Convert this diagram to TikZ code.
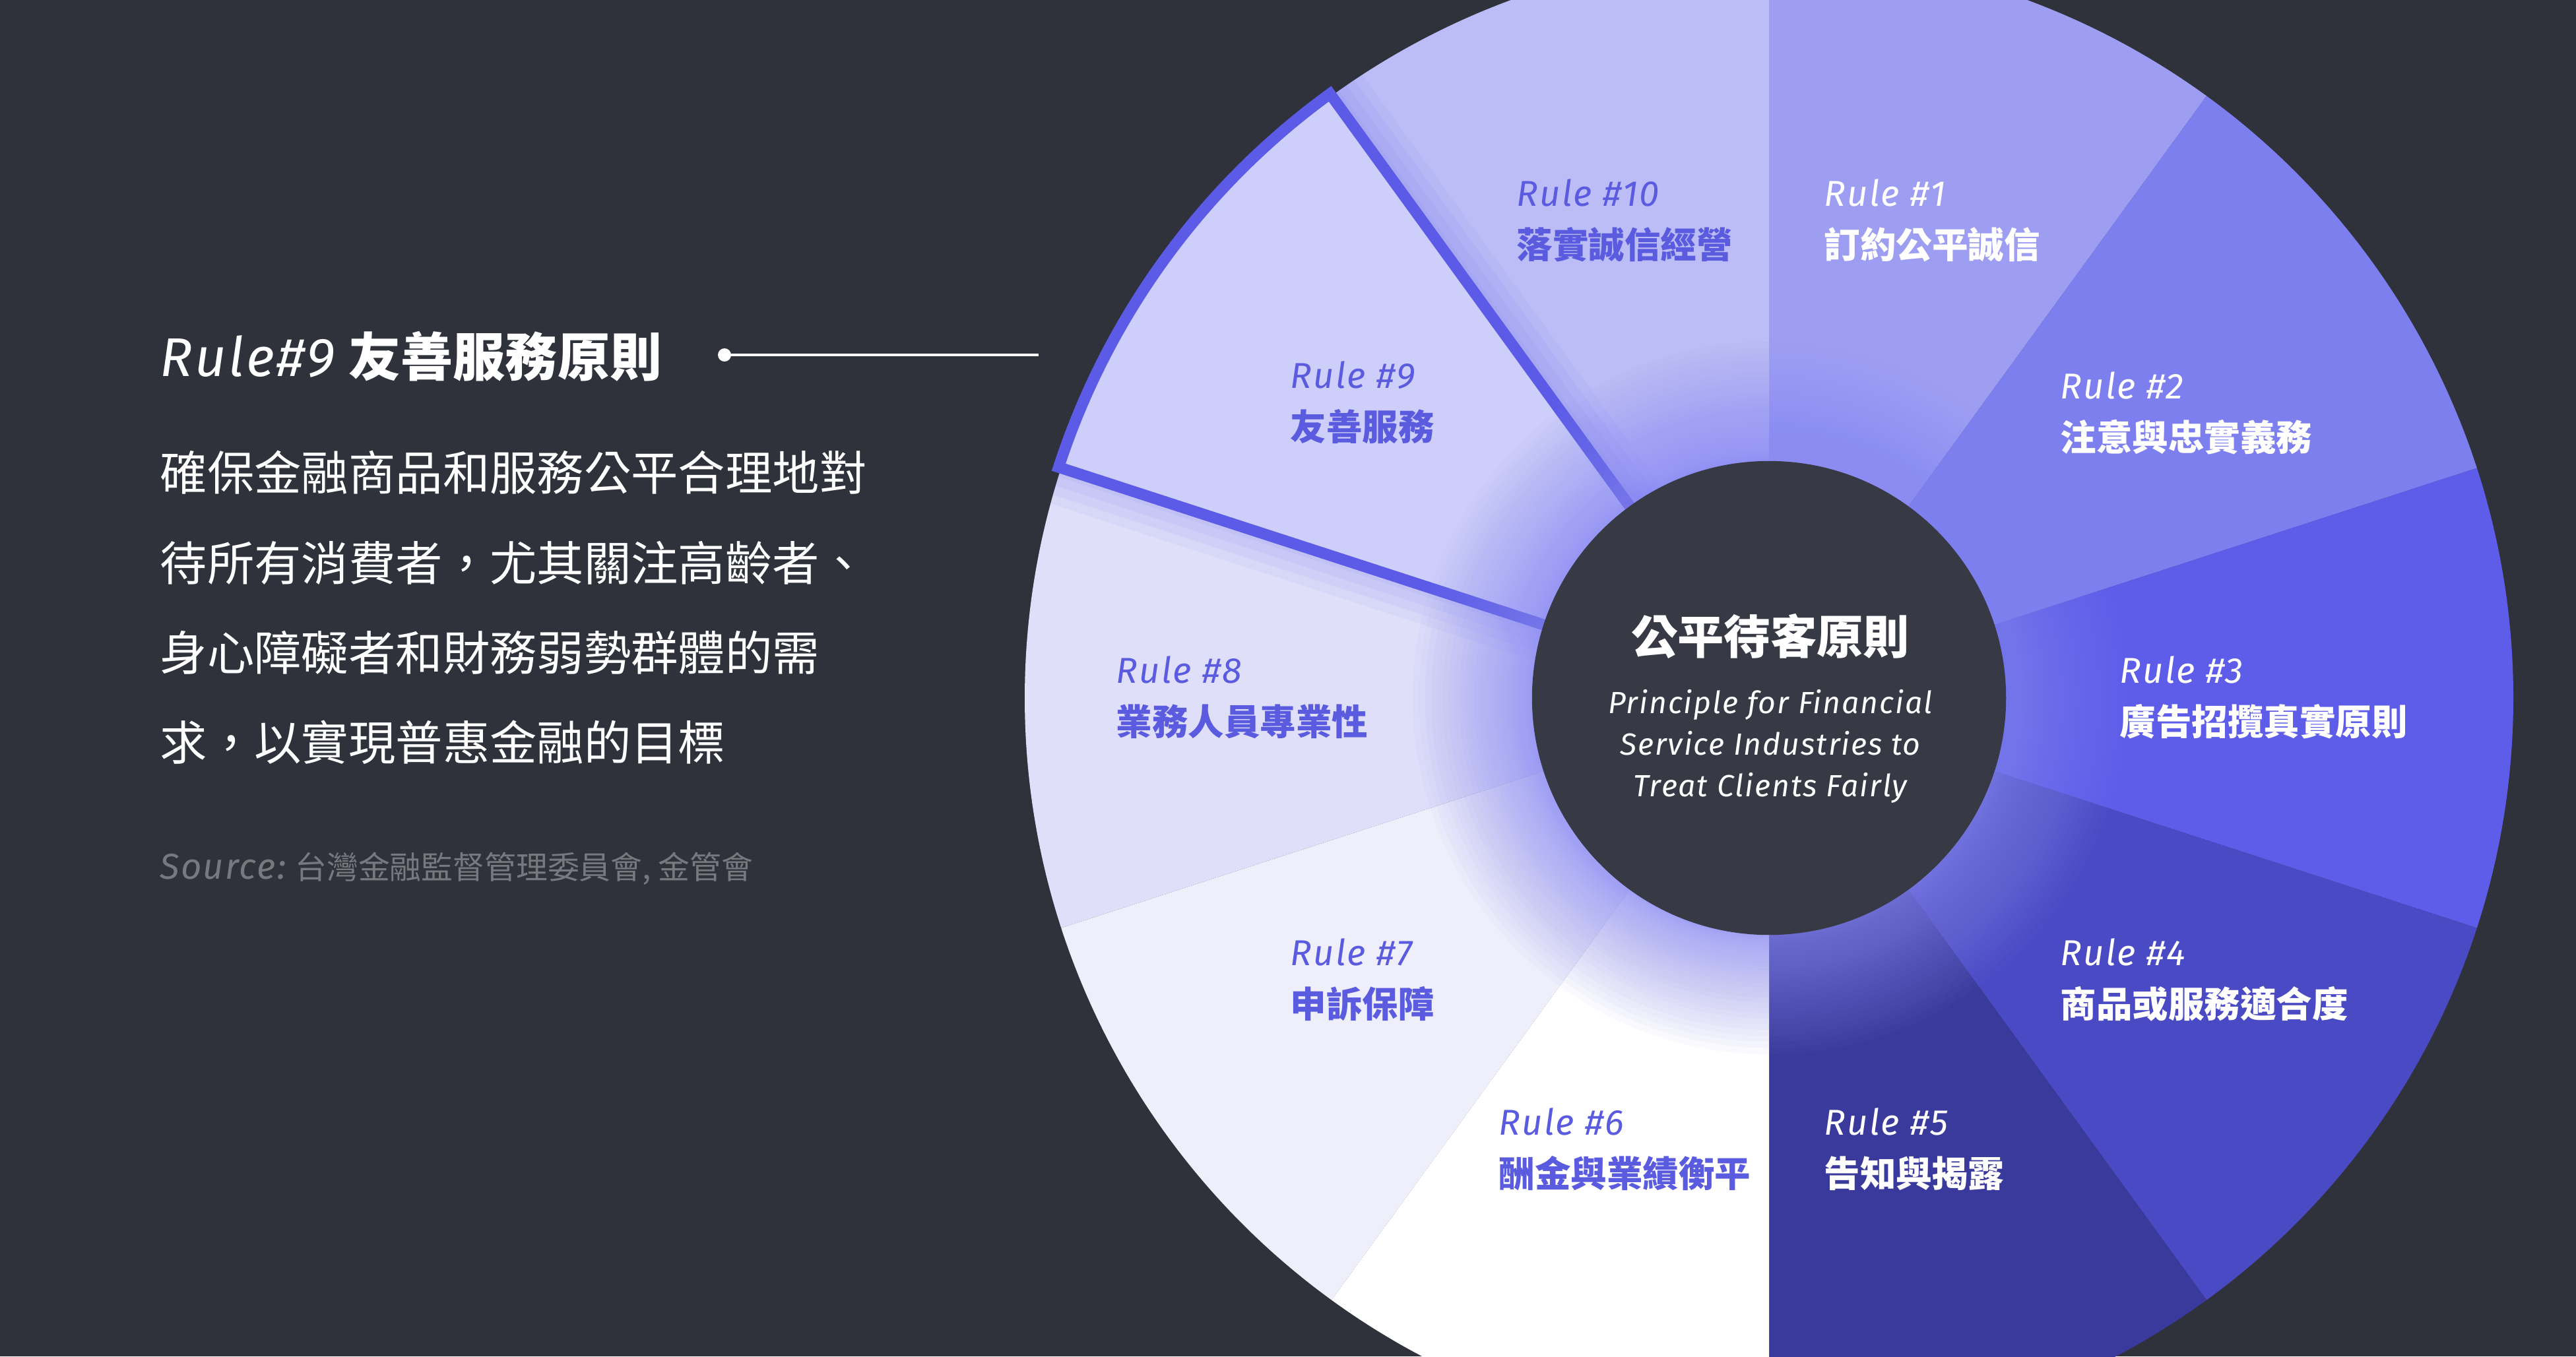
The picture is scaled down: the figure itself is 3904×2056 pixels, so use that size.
\documentclass[tikz,border=0pt]{standalone}
\usepackage{fontspec}
\setmainfont{Noto Sans CJK TC}
\newfontfamily\firasans{Fira Sans}[LetterSpace=4]
\newcommand\lightit{\firasans\itshape}
\newcommand\regit{\firasans\itshape}

\definecolor{bg}{HTML}{2F323B}
\definecolor{hub}{HTML}{373945}
\definecolor{s1}{HTML}{9D9EF2}
\definecolor{s2}{HTML}{7E7FEF}
\definecolor{s3}{HTML}{5D5DEA}
\definecolor{s4}{HTML}{4A4BC4}
\definecolor{s5}{HTML}{393A9B}
\definecolor{s6}{HTML}{FFFFFF}
\definecolor{s7}{HTML}{EFEFFC}
\definecolor{s8}{HTML}{DFDFFA}
\definecolor{s9}{HTML}{CDCEFA}
\definecolor{s10}{HTML}{BCBDF6}
\definecolor{edge}{HTML}{5B5BE8}
\definecolor{ink}{HTML}{5B5BE0}
\definecolor{glowcol}{HTML}{8B8BF4}
\definecolor{srcgray}{HTML}{77797F}

\begin{document}
\begin{tikzpicture}[x=0.01cm,y=0.01cm,inner sep=0pt,
  lbl/.style={anchor=west,align=left,font=\fontsize{15.5pt}{22.5pt}\selectfont},
  pointer/.style={white,line width=1.3pt}]
\def\R{1128}
\def\Rn{1132}
\clip (0,0) rectangle (3904,-2056);
\fill[bg] (0,0) rectangle (3904,-2056);
\coordinate (c) at (2681,-1058);

% wheel
\fill[s1] (c) -- ++(90:\R) arc[start angle=90,end angle=54,radius=\R] -- cycle;
\fill[s2] (c) -- ++(54:\R) arc[start angle=54,end angle=18,radius=\R] -- cycle;
\fill[s3] (c) -- ++(18:\R) arc[start angle=18,end angle=-18,radius=\R] -- cycle;
\fill[s4] (c) -- ++(-18:\R) arc[start angle=-18,end angle=-54,radius=\R] -- cycle;
\fill[s5] (c) -- ++(-54:\R) arc[start angle=-54,end angle=-90,radius=\R] -- cycle;
\fill[s6] (c) -- ++(-90:\R) arc[start angle=-90,end angle=-126,radius=\R] -- cycle;
\fill[s7] (c) -- ++(-126:\R) arc[start angle=-126,end angle=-162,radius=\R] -- cycle;
\fill[s8] (c) -- ++(198:\R) arc[start angle=198,end angle=162,radius=\R] -- cycle;
\fill[s10] (c) -- ++(126:\R) arc[start angle=126,end angle=90,radius=\R] -- cycle;

% highlighted rule 9
\begin{scope}
\clip (c) circle[radius=\R];
\foreach \w in {8,16,24,32} {
  \draw[edge,opacity=0.06,line width=\w pt] (c) -- ++(162:\Rn) arc[start angle=162,end angle=126,radius=\Rn] -- cycle;
}
\end{scope}
\fill[s9] (c) -- ++(162:\Rn) arc[start angle=162,end angle=126,radius=\Rn] -- cycle;
\draw[edge,line width=4.8pt] (c) -- ++(162:\Rn) arc[start angle=162,end angle=126,radius=\Rn] -- cycle;

% hub
\foreach \i in {1,...,30} {
  \pgfmathsetmacro\rr{360+180*(\i/30)^1.6}
  \fill[glowcol,opacity=0.045] (c) circle[radius=\rr];
}
\node[circle,fill=hub,minimum size=7.18cm] (hub) at (c) {};
\node[font=\fontsize{20pt}{24pt}\selectfont\bfseries,text=white] (hubtitle) at (2683,-964) {公平待客原則};
\node[font=\fontsize{13.2pt}{17.9pt}\selectfont\regit,text=white,align=center] (hubsub) at (2683,-1131)
  {Principle for Financial\\Service Industries to\\Treat Clients Fairly};

\node[lbl,text=white] (r1) at (2764,-334) {{\lightit Rule \#1}\\\textbf{訂約公平誠信}};
\node[lbl,text=white] (r2) at (3122,-626) {{\lightit Rule \#2}\\\textbf{注意與忠實義務}};
\node[lbl,text=white] (r3) at (3212,-1057) {{\lightit Rule \#3}\\\textbf{廣告招攬真實原則}};
\node[lbl,text=white] (r4) at (3122,-1485) {{\lightit Rule \#4}\\\textbf{商品或服務適合度}};
\node[lbl,text=white] (r5) at (2764,-1742) {{\lightit Rule \#5}\\\textbf{告知與揭露}};
\node[lbl,text=ink] (r6) at (2271,-1742) {{\lightit Rule \#6}\\\textbf{酬金與業績衡平}};
\node[lbl,text=ink] (r7) at (1955,-1485) {{\lightit Rule \#7}\\\textbf{申訴保障}};
\node[lbl,text=ink] (r8) at (1691,-1057) {{\lightit Rule \#8}\\\textbf{業務人員專業性}};
\node[lbl,text=ink] (r9) at (1955,-610) {{\lightit Rule \#9}\\\textbf{友善服務}};
\node[lbl,text=ink] (r10) at (2298,-334) {{\lightit Rule \#10}\\\textbf{落實誠信經營}};

% left column
\node[anchor=west,text=white,font=\fontsize{22.5pt}{27pt}\selectfont] (title) at (242,-540)
  {{\fontsize{23.5pt}{27pt}\lightit Rule\#9} \textbf{友善服務原則}};
\coordinate (dot) at (1098,-538);
\coordinate (tip) at (1574,-538);
\draw[pointer] (dot) -- (tip);
\fill[white] (dot) circle[radius=10];
\node[anchor=west,align=left,text=white,font=\fontsize{20.3pt}{38.8pt}\selectfont] (body) at (242,-921)
  {確保金融商品和服務公平合理地對\\待所有消費者，尤其關注高齡者、\\身心障礙者和財務弱勢群體的需\\求，以實現普惠金融的目標};
\node[anchor=west,text=srcgray,font=\fontsize{13.6pt}{16pt}\selectfont] (source) at (242,-1317)
  {{\fontsize{15.5pt}{16pt}\regit Source:} 台灣金融監督管理委員會, 金管會};
\end{tikzpicture}
\end{document}
